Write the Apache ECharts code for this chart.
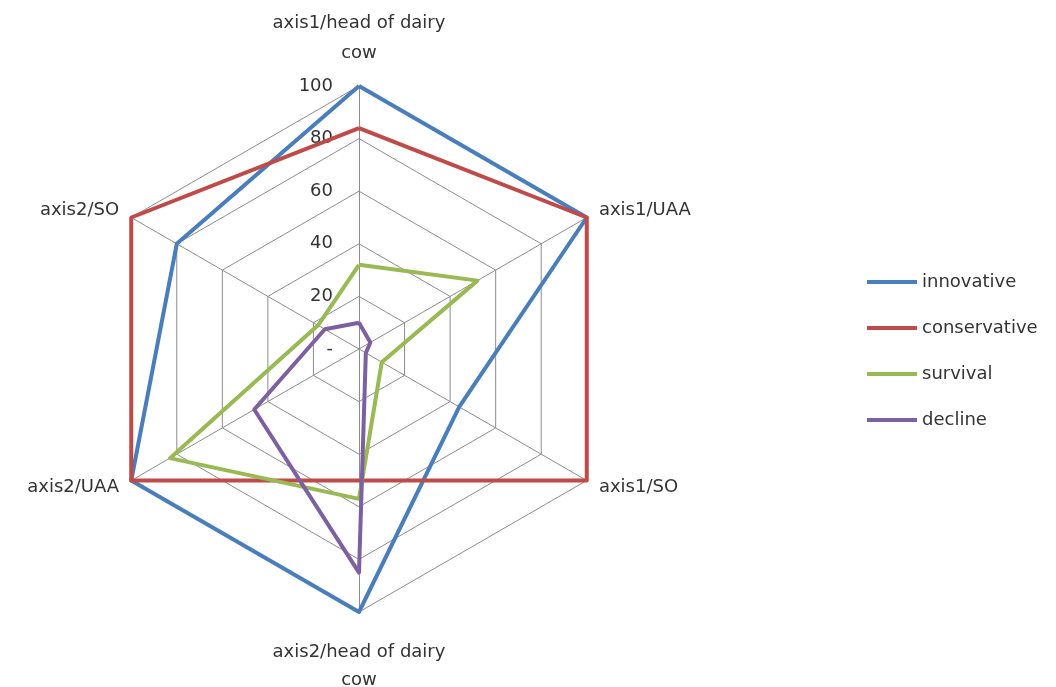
<!DOCTYPE html>
<html><head><meta charset="utf-8">
<script src="https://cdn.jsdelivr.net/npm/echarts@6/dist/echarts.min.js"></script>
<style>html,body{margin:0;padding:0;background:#fff}#c{width:1056px;height:687px}</style>
</head><body><div id="c"></div>
<script>
// Indicators in counter-clockwise order starting from the top
const categories = ["axis1/head of dairy\ncow", "axis2/SO", "axis2/UAA", "axis2/head of dairy\ncow", "axis1/SO", "axis1/UAA"];
const seriesNames = ["innovative", "conservative", "survival", "decline"];
const innovative   = [100, 80, 100, 100, 44, 100];
const conservative = [84, 100, 100, 50, 100, 100];
const survival     = [32, 18, 83, 57, 10, 52];
const decline      = [10, 15, 46, 85, 3, 5];
const colors = ["#4A7EBB", "#BE4B48", "#98B954", "#7D60A0"];
const tickLabels = ["-", "20", "40", "60", "80", "100"];

const values = [innovative, conservative, survival, decline];
const chart = echarts.init(document.getElementById('c'), null, {renderer: 'canvas'});
const font = '"DejaVu Sans", sans-serif';
const C = [359, 349], R = 263;
const txt = {fontFamily: font, fontSize: 18, color: '#333'};
chart.setOption({
  animation: false,
  legend: {
    orient: 'vertical', left: 862, top: 268, itemGap: 28,
    itemWidth: 50, itemHeight: 4, icon: 'rect',
    textStyle: txt,
    data: seriesNames
  },
  polar: {center: C, radius: R},
  angleAxis: {show: false, startAngle: 90, min: 0, max: 360},
  radiusAxis: {
    min: 0, max: 100, interval: 20,
    axisLine: {show: false}, axisTick: {show: false}, splitLine: {show: false},
    axisLabel: Object.assign({margin: 26, formatter: v => tickLabels[Math.round(v / 20)]}, txt)
  },
  radar: {
    center: C, radius: R, startAngle: 90,
    splitNumber: 5,
    shape: 'polygon',
    indicator: categories.map(n => ({name: n, min: 0, max: 100})),
    axisName: Object.assign({lineHeight: 30, verticalAlign: 'middle',
      formatter: function (name) {
        const i = categories.indexOf(name);
        const parts = name.split('\n').map(s => '{n|' + s + '}');
        if (i === 0) return parts.join('\n') + '\n{top| }';
        if (i === 3) return '{bot| }\n' + parts.map(p => p.replace('{n|', '{m|')).join('\n');
        return parts.join('\n');
      },
      rich: {
        n: Object.assign({lineHeight: 30}, txt),
        m: Object.assign({lineHeight: 28}, txt),
        top: {lineHeight: 68, fontSize: 2},
        bot: {lineHeight: 80, fontSize: 2}
      }}, txt),
    nameGap: 14,
    splitLine: {lineStyle: {color: '#8c8c8c', width: 1}},
    splitArea: {show: false},
    axisLine: {lineStyle: {color: '#8c8c8c', width: 1}},
    axisLabel: {show: false}
  },
  series: [{
    type: 'radar',
    symbol: 'none',
    data: seriesNames.map((n, i) => ({
      name: n, value: values[i],
      lineStyle: {color: colors[i], width: 4},
      itemStyle: {color: colors[i]}
    }))
  }]
});
</script></body></html>
